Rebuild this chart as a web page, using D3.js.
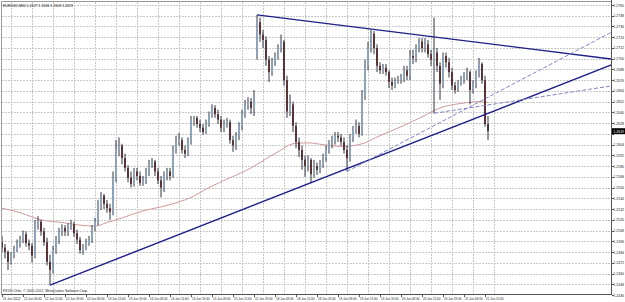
<!DOCTYPE html>
<html><head><meta charset="utf-8">
<script src="https://cdn.jsdelivr.net/npm/d3@7"></script>
<style>
body{margin:0;background:#fff;}
svg{display:block;}
text{font-family:"Liberation Sans",Arial,sans-serif;}
</style>
</head><body>
<svg id="c" width="625" height="302"></svg>
<script>
// ---------- data ----------
const titleText = "EURUSD,M30  1.2627 1.2636 1.2609 1.2619";
const copyrightText = "FXDD Chile, \u00a9 2001-2012, MetaQuotes Software Corp.";
const timeLabels = ["11 Jun 2012","12 Jun 03:00","12 Jun 11:00","12 Jun 19:00","13 Jun 03:00","13 Jun 11:00","13 Jun 19:00","14 Jun 03:00","14 Jun 11:00","14 Jun 19:00","15 Jun 03:00","15 Jun 11:00","15 Jun 19:00","18 Jun 03:00","18 Jun 11:00","18 Jun 19:00","19 Jun 03:00","19 Jun 11:00","19 Jun 19:00","20 Jun 03:00","20 Jun 11:00","20 Jun 19:00","21 Jun 03:00","21 Jun 11:00"];
const timeLabelIdx = [0,7,14,21,28,35,42,49,56,63,70,77,84,91,98,105,112,119,126,133,140,147,154,161];
const priceTicks = [1.2760,1.2748,1.2736,1.2724,1.2712,1.2700,1.2688,1.2676,1.2664,1.2652,1.2640,1.2628,1.2616,1.2604,1.2592,1.2580,1.2568,1.2556,1.2544,1.2532,1.2520,1.2508,1.2496,1.2484,1.2472,1.2460,1.2448,1.2436];

const opens = [1.2495,1.2489,1.2484,1.2473,1.2481,1.2486,1.2493,1.2498,1.2504,1.2494,
1.2491,1.2480,1.2514,1.2518,1.2507,1.2495,1.2473,1.2464,1.2486,1.2498,
1.2507,1.2511,1.2507,1.2513,1.2515,1.2505,1.2498,1.2486,1.2489,1.2494,
1.2498,1.2511,1.2518,1.2537,1.2547,1.2538,1.2533,1.2529,1.2567,1.2598,
1.2603,1.2589,1.2578,1.2567,1.2560,1.2574,1.2569,1.2561,1.2564,1.2574,
1.2582,1.2585,1.2574,1.2564,1.2556,1.2569,1.2574,1.2569,1.2598,1.2607,
1.2609,1.2598,1.2594,1.2607,1.2632,1.2634,1.2627,1.2623,1.2618,1.2627,
1.2637,1.2645,1.2638,1.2632,1.2623,1.2627,1.2629,1.2609,1.2603,1.2614,
1.2625,1.2638,1.2647,1.2652,1.2645,1.2702,1.2741,1.2727,1.2721,1.2699,
1.2685,1.2696,1.2703,1.2712,1.2719,1.2676,1.2641,1.2649,1.2625,1.2607,
1.2598,1.2587,1.2580,1.2587,1.2571,1.2580,1.2576,1.2582,1.2589,1.2598,
1.2605,1.2608,1.2614,1.2612,1.2607,1.2598,1.2589,1.2612,1.2620,1.2625,
1.2616,1.2658,1.2692,1.2712,1.2728,1.2712,1.2692,1.2687,1.2690,1.2685,
1.2674,1.2670,1.2674,1.2676,1.2679,1.2687,1.2681,1.2703,1.2701,1.2712,
1.2719,1.2712,1.2716,1.2705,1.2699,1.2707,1.2692,1.2672,1.2703,1.2696,
1.2685,1.2670,1.2665,1.2672,1.2676,1.2681,1.2685,1.2665,1.2672,1.2683,
1.2694,1.2676,1.2627];
const highs = [1.2502,1.2493,1.2486,1.2484,1.2491,1.2498,1.2502,1.2508,1.2507,1.2498,
1.2494,1.2520,1.2524,1.2520,1.2511,1.2500,1.2481,1.2491,1.2502,1.2511,
1.2515,1.2514,1.2516,1.2520,1.2518,1.2509,1.2501,1.2493,1.2499,1.2502,
1.2514,1.2522,1.2542,1.2551,1.2549,1.2542,1.2538,1.2574,1.2609,1.2612,
1.2605,1.2594,1.2581,1.2574,1.2578,1.2578,1.2574,1.2569,1.2578,1.2587,
1.2589,1.2587,1.2578,1.2569,1.2574,1.2578,1.2578,1.2603,1.2614,1.2617,
1.2612,1.2603,1.2612,1.2636,1.2636,1.2636,1.2632,1.2627,1.2632,1.2641,
1.2649,1.2648,1.2643,1.2636,1.2632,1.2634,1.2632,1.2614,1.2618,1.2629,
1.2643,1.2654,1.2657,1.2656,1.2665,1.2749,1.2746,1.2732,1.2725,1.2703,
1.2701,1.2707,1.2716,1.2727,1.2721,1.2681,1.2660,1.2652,1.2629,1.2612,
1.2603,1.2592,1.2592,1.2589,1.2587,1.2584,1.2587,1.2594,1.2603,1.2609,
1.2614,1.2618,1.2618,1.2616,1.2612,1.2603,1.2616,1.2625,1.2632,1.2629,
1.2665,1.2699,1.2719,1.2732,1.2731,1.2716,1.2696,1.2694,1.2694,1.2687,
1.2679,1.2679,1.2681,1.2683,1.2692,1.2692,1.2710,1.2710,1.2716,1.2723,
1.2723,1.2723,1.2721,1.2710,1.2746,1.2712,1.2696,1.2707,1.2707,1.2701,
1.2690,1.2674,1.2676,1.2681,1.2685,1.2690,1.2687,1.2676,1.2687,1.2701,
1.2696,1.2681,1.2636];
const lows = [1.2484,1.2477,1.2464,1.2470,1.2477,1.2484,1.2489,1.2494,1.2490,1.2486,
1.2472,1.2477,1.2509,1.2502,1.2491,1.2469,1.2447,1.2460,1.2482,1.2493,
1.2502,1.2502,1.2502,1.2509,1.2501,1.2493,1.2482,1.2481,1.2486,1.2491,
1.2494,1.2507,1.2514,1.2531,1.2532,1.2528,1.2520,1.2525,1.2562,1.2591,
1.2582,1.2574,1.2562,1.2556,1.2557,1.2564,1.2558,1.2558,1.2560,1.2569,
1.2578,1.2569,1.2560,1.2545,1.2551,1.2564,1.2564,1.2567,1.2594,1.2603,
1.2594,1.2589,1.2591,1.2604,1.2625,1.2623,1.2618,1.2615,1.2616,1.2624,
1.2634,1.2634,1.2627,1.2618,1.2618,1.2623,1.2605,1.2596,1.2598,1.2609,
1.2620,1.2634,1.2643,1.2638,1.2636,1.2699,1.2719,1.2712,1.2692,1.2674,
1.2681,1.2692,1.2699,1.2707,1.2670,1.2634,1.2636,1.2618,1.2600,1.2590,
1.2576,1.2568,1.2574,1.2561,1.2567,1.2570,1.2572,1.2578,1.2585,1.2594,
1.2600,1.2604,1.2607,1.2603,1.2594,1.2574,1.2585,1.2607,1.2616,1.2612,
1.2614,1.2654,1.2687,1.2707,1.2705,1.2685,1.2683,1.2683,1.2681,1.2667,
1.2665,1.2667,1.2672,1.2672,1.2674,1.2676,1.2676,1.2694,1.2696,1.2707,
1.2707,1.2707,1.2701,1.2692,1.2639,1.2685,1.2654,1.2667,1.2690,1.2679,
1.2665,1.2661,1.2663,1.2670,1.2672,1.2676,1.2649,1.2661,1.2667,1.2679,
1.2672,1.2624,1.2609];
const closes = [1.2489,1.2484,1.2473,1.2481,1.2486,1.2493,1.2498,1.2504,1.2494,1.2491,
1.2480,1.2514,1.2518,1.2507,1.2495,1.2473,1.2464,1.2486,1.2498,1.2507,
1.2511,1.2507,1.2513,1.2515,1.2505,1.2498,1.2486,1.2489,1.2494,1.2498,
1.2511,1.2518,1.2537,1.2547,1.2538,1.2533,1.2529,1.2567,1.2598,1.2603,
1.2589,1.2578,1.2567,1.2560,1.2574,1.2569,1.2561,1.2564,1.2574,1.2582,
1.2585,1.2574,1.2564,1.2556,1.2569,1.2574,1.2569,1.2598,1.2607,1.2609,
1.2598,1.2594,1.2607,1.2632,1.2634,1.2627,1.2623,1.2618,1.2627,1.2637,
1.2645,1.2638,1.2632,1.2623,1.2627,1.2629,1.2609,1.2603,1.2614,1.2625,
1.2638,1.2647,1.2652,1.2645,1.2658,1.2741,1.2727,1.2721,1.2699,1.2685,
1.2696,1.2703,1.2712,1.2719,1.2676,1.2641,1.2649,1.2625,1.2607,1.2598,
1.2587,1.2580,1.2587,1.2571,1.2580,1.2576,1.2582,1.2589,1.2598,1.2605,
1.2608,1.2614,1.2612,1.2607,1.2598,1.2589,1.2612,1.2620,1.2625,1.2616,
1.2658,1.2692,1.2712,1.2728,1.2712,1.2692,1.2687,1.2690,1.2685,1.2674,
1.2670,1.2674,1.2676,1.2679,1.2687,1.2681,1.2703,1.2701,1.2712,1.2719,
1.2712,1.2716,1.2705,1.2699,1.2707,1.2692,1.2672,1.2703,1.2696,1.2685,
1.2670,1.2665,1.2672,1.2676,1.2681,1.2685,1.2665,1.2672,1.2683,1.2694,
1.2676,1.2627,1.2619];

// moving average (sampled at bar indices)
const maIdx = [0,6,13,20,26,31,35,39,46,56,63,69,76,83,86,93,97,102,107,113,119,126,133,140,146,153,159,162];
const maVal = [1.2533,1.2528,1.2520,1.2517,1.2514,1.2513,1.2517,1.2521,1.2529,1.2537,1.2545,1.2556,1.2567,1.2578,1.2584,1.2598,1.2605,1.2606,1.2604,1.2602,1.2604,1.2614,1.2624,1.2635,1.2645,1.2650,1.2652,1.2651];

// trend lines: anchor bar index / price pairs (rays to the right)
const tlStartIdx = [16, 85, 115, 144];
const tlStartPrice = [1.2447, 1.2749, 1.2574, 1.2639];
const tlEndIdx = [200, 200, 200, 200];
const tlEndPrice = [1.2689, 1.2701, 1.2724, 1.2668];
const tlDashed = [false, false, true, true];

// ---------- layout ----------
const W = 625, H = 302;
const plotL = 2, plotR = 611, plotT = 2, plotB = 294;
const svg = d3.select("#c");
svg.append("rect").attr("width", W).attr("height", H).attr("fill", "#fff");

const x = d3.scaleLinear().domain([0, closes.length - 1]).range([2, 488]);
const y = d3.scaleLinear().domain([1.2436, 1.2760]).range([295, 5]);

svg.append("defs").append("clipPath").attr("id", "clip")
  .append("rect").attr("x", plotL).attr("y", plotT).attr("width", plotR - plotL).attr("height", plotB - plotT);

// grid
const grid = svg.append("g").attr("clip-path", "url(#clip)");
grid.selectAll("line.h").data(priceTicks).join("line")
  .attr("x1", plotL).attr("x2", plotR)
  .attr("y1", d => Math.round(y(d)) + 0.5).attr("y2", d => Math.round(y(d)) + 0.5)
  .attr("stroke", "#c8c8c8").attr("stroke-dasharray", "2,1");
grid.selectAll("line.v").data(timeLabelIdx).join("line")
  .attr("x1", d => Math.round(x(d + 3)) + 0.5).attr("x2", d => Math.round(x(d + 3)) + 0.5)
  .attr("y1", plotT).attr("y2", plotB)
  .attr("stroke", "#c8c8c8").attr("stroke-dasharray", "2,1");

// frame
svg.append("rect").attr("x", plotL - 0.5).attr("y", plotT - 0.5)
  .attr("width", plotR - plotL + 1).attr("height", plotB - plotT + 1)
  .attr("fill", "none").attr("stroke", "#9a9a9a");
svg.append("line").attr("x1", plotR + 0.5).attr("x2", plotR + 0.5).attr("y1", 0).attr("y2", plotB + 1)
  .attr("stroke", "#555");
svg.append("line").attr("x1", plotL).attr("x2", plotR + 1).attr("y1", plotB + 0.5).attr("y2", plotB + 0.5)
  .attr("stroke", "#555");

const plot = svg.append("g").attr("clip-path", "url(#clip)");

// moving average
const maData = maIdx.map((d, i) => [d, maVal[i]]);
plot.append("path").datum(maData)
  .attr("d", d3.line().x(d => x(d[0])).y(d => y(d[1])).curve(d3.curveMonotoneX))
  .attr("fill", "none").attr("stroke", "#cf9a9a").attr("stroke-width", 1);

// candles
const bars = closes.map((c, i) => ({i, o: opens[i], h: highs[i], l: lows[i], c}));
const cg = plot.append("g");
cg.selectAll("line.w").data(bars).join("line")
  .attr("x1", d => x(d.i)).attr("x2", d => x(d.i))
  .attr("y1", d => y(d.h)).attr("y2", d => y(d.l))
  .attr("stroke", "#2c3444").attr("stroke-width", 1);
cg.selectAll("rect.b").data(bars).join("rect")
  .attr("x", d => x(d.i) - 1).attr("width", 2)
  .attr("y", d => y(Math.max(d.o, d.c)))
  .attr("height", d => Math.max(1, Math.abs(y(d.o) - y(d.c))))
  .attr("fill", d => d.c >= d.o ? "#8fa3b8" : "#5a3436");

// trend lines (rays extended to right edge)
const tl = tlStartIdx.map((s, k) => {
  const x1 = x(s), y1 = y(tlStartPrice[k]);
  const x2 = x(tlEndIdx[k]), y2 = y(tlEndPrice[k]);
  const xe = plotR + 2;
  const ye = y1 + (y2 - y1) * (xe - x1) / (x2 - x1);
  return {x1, y1, xe, ye, dash: tlDashed[k]};
});
plot.selectAll("line.tl").data(tl).join("line")
  .attr("x1", d => d.x1).attr("y1", d => d.y1).attr("x2", d => d.xe).attr("y2", d => d.ye)
  .attr("stroke", d => d.dash ? "#8585c0" : "#1e1e88")
  .attr("stroke-width", d => d.dash ? 1 : 1.4)
  .attr("stroke-dasharray", d => d.dash ? "4,2" : null);

// right price axis
const last = closes[closes.length - 1];
const yLast = y(last);
const ya = svg.append("g");
ya.selectAll("line").data(priceTicks).join("line")
  .attr("x1", plotR + 1).attr("x2", plotR + 3)
  .attr("y1", d => Math.round(y(d)) + 0.5).attr("y2", d => Math.round(y(d)) + 0.5)
  .attr("stroke", "#555");
ya.selectAll("text").data(priceTicks.filter(d => Math.abs(y(d) - yLast) > 6)).join("text")
  .attr("x", plotR + 2.5).attr("y", d => y(d) + 1.5)
  .attr("font-size", 4).attr("fill", "#222")
  .attr("textLength", 10.5).attr("lengthAdjust", "spacingAndGlyphs")
  .text(d => d.toFixed(4));

// current price box
svg.append("rect").attr("x", plotR + 1).attr("y", yLast - 3).attr("width", W - plotR - 1).attr("height", 6).attr("fill", "#000");
svg.append("text").attr("x", plotR + 2.5).attr("y", yLast + 1.5).attr("font-size", 4).attr("fill", "#fff")
  .attr("textLength", 10.5).attr("lengthAdjust", "spacingAndGlyphs").text(last.toFixed(4));

// bottom time axis
const xa = svg.append("g");
xa.selectAll("line").data(timeLabelIdx).join("line")
  .attr("x1", d => Math.round(x(d)) + 0.5).attr("x2", d => Math.round(x(d)) + 0.5)
  .attr("y1", plotB + 1).attr("y2", plotB + 3).attr("stroke", "#555");
xa.selectAll("text").data(timeLabelIdx).join("text")
  .attr("x", d => x(d) + 1).attr("y", 300)
  .attr("font-size", 3.8).attr("fill", "#222")
  .attr("textLength", 17.5).attr("lengthAdjust", "spacingAndGlyphs")
  .text((d, i) => timeLabels[i]);

// texts
svg.append("text").attr("x", 3).attr("y", 7).attr("font-size", 4.2).attr("fill", "#111")
  .attr("textLength", 70).attr("lengthAdjust", "spacingAndGlyphs").text(titleText);
svg.append("text").attr("x", 3).attr("y", 292).attr("font-size", 4).attr("fill", "#222")
  .attr("textLength", 85).attr("lengthAdjust", "spacingAndGlyphs").text(copyrightText);
</script>
</body></html>
